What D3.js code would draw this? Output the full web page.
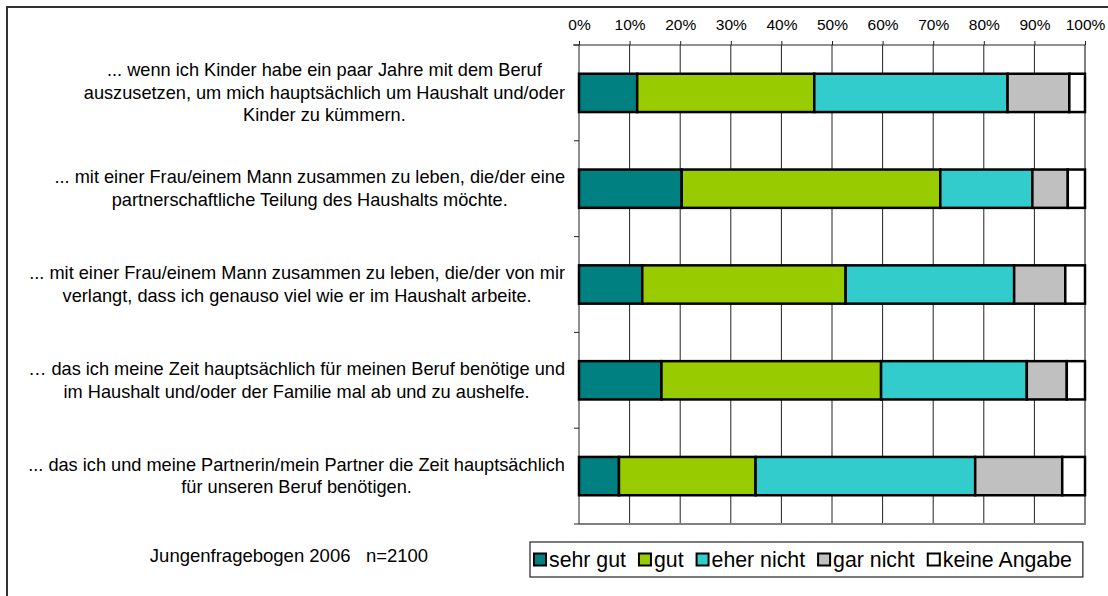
<!DOCTYPE html>
<html>
<head>
<meta charset="utf-8">
<script src="https://cdn.jsdelivr.net/npm/d3@7"></script>
<style>
  body { margin: 0; background: #fff; }
  svg { font-family: "Liberation Sans", Arial, sans-serif; display: block; }
</style>
</head>
<body>
<div id="chart"></div>
<script>
// data
const categories = [
  ["... wenn ich Kinder habe ein paar Jahre mit dem Beruf",
   "auszusetzen, um mich hauptsächlich um Haushalt und/oder",
   "Kinder zu kümmern."],
  ["... mit einer Frau/einem Mann zusammen zu leben, die/der eine",
   "partnerschaftliche Teilung des Haushalts möchte."],
  ["... mit einer Frau/einem Mann zusammen zu leben, die/der von mir",
   "verlangt, dass ich genauso viel wie er im Haushalt arbeite."],
  ["… das ich meine Zeit hauptsächlich für meinen Beruf benötige und",
   "im Haushalt und/oder der Familie mal ab und zu aushelfe."],
  ["... das ich und meine Partnerin/mein Partner die Zeit hauptsächlich",
   "für unseren Beruf benötigen."]
];
const seriesNames = ["sehr gut", "gut", "eher nicht", "gar nicht", "keine Angabe"];
const sehrGut = [11.5, 20.3, 12.5, 16.3, 7.9];
const gut = [35.0, 51.1, 40.2, 43.4, 27.0];
const eherNicht = [38.2, 18.2, 33.3, 28.8, 43.4];
const garNicht = [12.2, 7.0, 10.1, 7.9, 17.2];
const keineAngabe = [3.1, 3.4, 3.9, 3.6, 4.5];
const tickValues = [0, 10, 20, 30, 40, 50, 60, 70, 80, 90, 100];
const tickLabels = ["0%", "10%", "20%", "30%", "40%", "50%", "60%", "70%", "80%", "90%", "100%"];
const note = "Jungenfragebogen 2006\u00a0\u00a0\u00a0n=2100";

const colors = ["#008080", "#99cc00", "#33cccc", "#c0c0c0", "#ffffff"];

const width = 1108, height = 596;
const plot = { left: 579, right: 1085, top: 45, bottom: 524 };

const svg = d3.select("#chart").append("svg")
  .attr("width", width).attr("height", height);

// outer frame (only left and top edges visible)
svg.append("rect")
  .attr("x", 7).attr("y", 7)
  .attr("width", width + 20).attr("height", height + 20)
  .attr("fill", "#fff").attr("stroke", "#333").attr("stroke-width", 2);

const rows = categories.map((c, i) => ({
  idx: i,
  values: [sehrGut[i], gut[i], eherNicht[i], garNicht[i], keineAngabe[i]]
}));

const x = d3.scaleLinear().domain([0, 100]).range([plot.left, plot.right]);
const y = d3.scaleBand()
  .domain(d3.range(categories.length))
  .range([plot.top, plot.bottom])
  .paddingInner(0.6).paddingOuter(0.3);

// gridlines
svg.append("g").selectAll("line")
  .data(tickValues.slice(1, -1))
  .join("line")
  .attr("x1", d => x(d)).attr("x2", d => x(d))
  .attr("y1", plot.top).attr("y2", plot.bottom)
  .attr("stroke", "#222").attr("stroke-width", 1);

// plot border right/bottom (gray)
svg.append("line")
  .attr("x1", x(100)).attr("x2", x(100))
  .attr("y1", plot.top).attr("y2", plot.bottom + 1)
  .attr("stroke", "#808080").attr("stroke-width", 2);
svg.append("line")
  .attr("x1", plot.left).attr("x2", x(100) + 1)
  .attr("y1", plot.bottom).attr("y2", plot.bottom)
  .attr("stroke", "#808080").attr("stroke-width", 2);

// top axis
const xAxis = d3.axisTop(x)
  .tickValues(tickValues)
  .tickFormat((d, i) => tickLabels[i])
  .tickSize(4).tickSizeOuter(0).tickPadding(11);
const gx = svg.append("g")
  .attr("transform", `translate(0,${plot.top})`)
  .call(xAxis);
gx.select(".domain").remove();
gx.selectAll(".tick line").attr("stroke", "#222");
gx.selectAll(".tick text")
  .attr("font-family", "Liberation Sans, Arial, sans-serif")
  .attr("font-size", 15.5).attr("fill", "#000");
svg.append("line")
  .attr("x1", plot.left - 6).attr("x2", x(100))
  .attr("y1", plot.top).attr("y2", plot.top)
  .attr("stroke", "#222");

// left axis with ticks at category boundaries
svg.append("line")
  .attr("x1", plot.left).attr("x2", plot.left)
  .attr("y1", plot.top).attr("y2", plot.bottom)
  .attr("stroke", "#222");
const bounds = d3.range(categories.length + 1).map(k => plot.top + k * y.step());
svg.append("g").selectAll("line")
  .data(bounds)
  .join("line")
  .attr("x1", plot.left - 5).attr("x2", plot.left)
  .attr("y1", d => d).attr("y2", d => d)
  .attr("stroke", "#222");

// bars
const stacked = rows.map(r => {
  let acc = 0;
  return r.values.map((v, s) => {
    const seg = { row: r.idx, s, x0: acc, x1: acc + v };
    acc += v;
    return seg;
  });
}).flat();

svg.append("g").selectAll("rect")
  .data(stacked)
  .join("rect")
  .attr("x", d => x(d.x0))
  .attr("y", d => y(d.row))
  .attr("width", d => x(d.x1) - x(d.x0))
  .attr("height", y.bandwidth())
  .attr("fill", d => colors[d.s])
  .attr("stroke", "#000").attr("stroke-width", 2.5);

// category labels: lines centered in a block right-aligned at 565
const labelRight = 565, lineH = 22.5;
categories.forEach((lines, i) => {
  const g = svg.append("g");
  const cy = y(i) + y.bandwidth() / 2;
  const texts = g.selectAll("text")
    .data(lines)
    .join("text")
    .attr("font-size", 18.2)
    .attr("fill", "#000")
    .attr("text-anchor", "middle")
    .attr("dominant-baseline", "central")
    .attr("y", (d, k) => cy + (k - (lines.length - 1) / 2) * lineH)
    .text(d => d);
  let maxW = 0;
  texts.each(function () { maxW = Math.max(maxW, this.getComputedTextLength()); });
  texts.attr("x", labelRight - maxW / 2);
});

// note
svg.append("text")
  .attr("x", 289).attr("y", 555)
  .attr("text-anchor", "middle")
  .attr("dominant-baseline", "central")
  .attr("font-size", 18.5)
  .text(note);

// legend
const legend = svg.append("g");
const legBox = legend.append("rect")
  .attr("y", 542).attr("height", 35)
  .attr("fill", "#fff").attr("stroke", "#222").attr("stroke-width", 1.2);
let lx = 534;
seriesNames.forEach((name, i) => {
  legend.append("rect")
    .attr("x", lx).attr("y", 553.5)
    .attr("width", 12).attr("height", 12)
    .attr("fill", colors[i]).attr("stroke", "#000").attr("stroke-width", 2);
  const t = legend.append("text")
    .attr("x", lx + 15).attr("y", 560)
    .attr("dominant-baseline", "central")
    .attr("font-size", 21.3)
    .text(name);
  lx += 15 + t.node().getComputedTextLength() + 13;
});
legBox.attr("x", 530).attr("width", lx - 530 - 2);
</script>
</body>
</html>
